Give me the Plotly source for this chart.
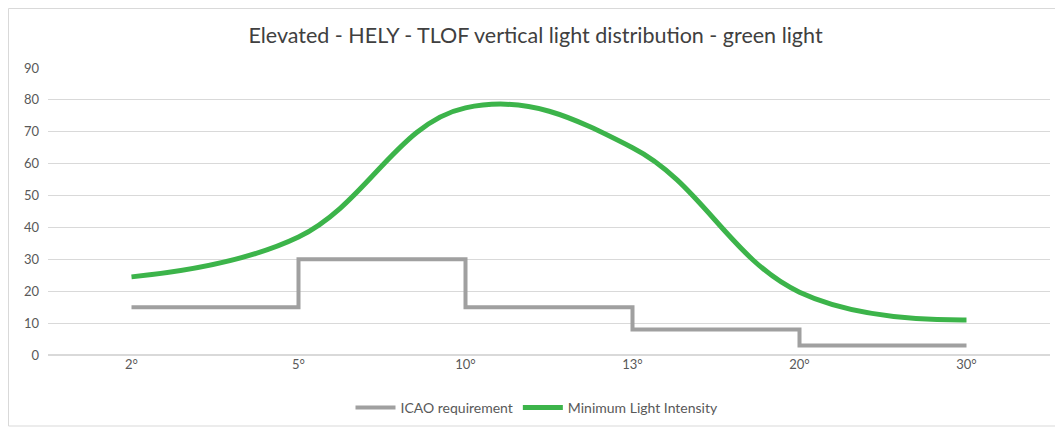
import plotly.graph_objects as go

categories = ["2°", "5°", "10°", "13°", "20°", "30°"]
icao_requirement = [15, 30, 15, 8, 3, 3]
min_light_intensity = [24.5, 37, 77.5, 65, 19.7, 11]
y_ticks = [0, 10, 20, 30, 40, 50, 60, 70, 80, 90]

FONT = "Lato"
# page has 8px body margin; figure coords = page coords - 8
W, H = 1055, 421
L, R, T, B = 40, 13, 60, 74
PW, PH = W - L - R, H - T - B

fig = go.Figure()
fig.add_trace(go.Scatter(
    x=categories, y=icao_requirement, mode="lines", name="ICAO requirement",
    line=dict(color="#a0a0a0", width=4, shape="hv"),
))
fig.add_trace(go.Scatter(
    x=categories, y=min_light_intensity, mode="lines", name="Minimum Light Intensity",
    line=dict(color="#3cb44a", width=5, shape="spline", smoothing=1.15),
))
fig.update_layout(
    width=W, height=H,
    margin=dict(l=L, r=R, t=T, b=B, autoexpand=False),
    paper_bgcolor="white", plot_bgcolor="white",
    font=dict(family=FONT, color="#595959", size=13),
    title=dict(text="Elevated - HELY - TLOF vertical light distribution - green light",
               x=0.5, xanchor="center", y=1 - 27 / H, yanchor="middle",
               font=dict(family=FONT, size=21.5, color="#404040")),
    showlegend=True,
    legend=dict(orientation="h", x=(529 - L) / PW, xanchor="center", y=-(400 - T - PH) / PH,
                yanchor="middle", font=dict(size=14, color="#595959"), itemwidth=40),
    xaxis=dict(type="category", range=[-0.5, 5.5], showgrid=False, showline=False,
               ticks="", tickfont=dict(size=13)),
    yaxis=dict(range=[0, 90], tickvals=y_ticks, showgrid=True, gridcolor="#d9d9d9",
               gridwidth=1, zeroline=True, zerolinecolor="#d9d9d9", showline=False,
               ticks="", ticklabelstandoff=8, tickfont=dict(size=13)),
    shapes=[dict(type="rect", xref="paper", yref="paper",
                 x0=(0.5 - L) / PW, x1=(W + 20 - L) / PW,
                 y0=-(418 - T - PH) / PH, y1=(T + PH - 0.5) / PH,
                 line=dict(color="#d9d9d9", width=1), layer="below")],
)
fig.write_html("out.html")
